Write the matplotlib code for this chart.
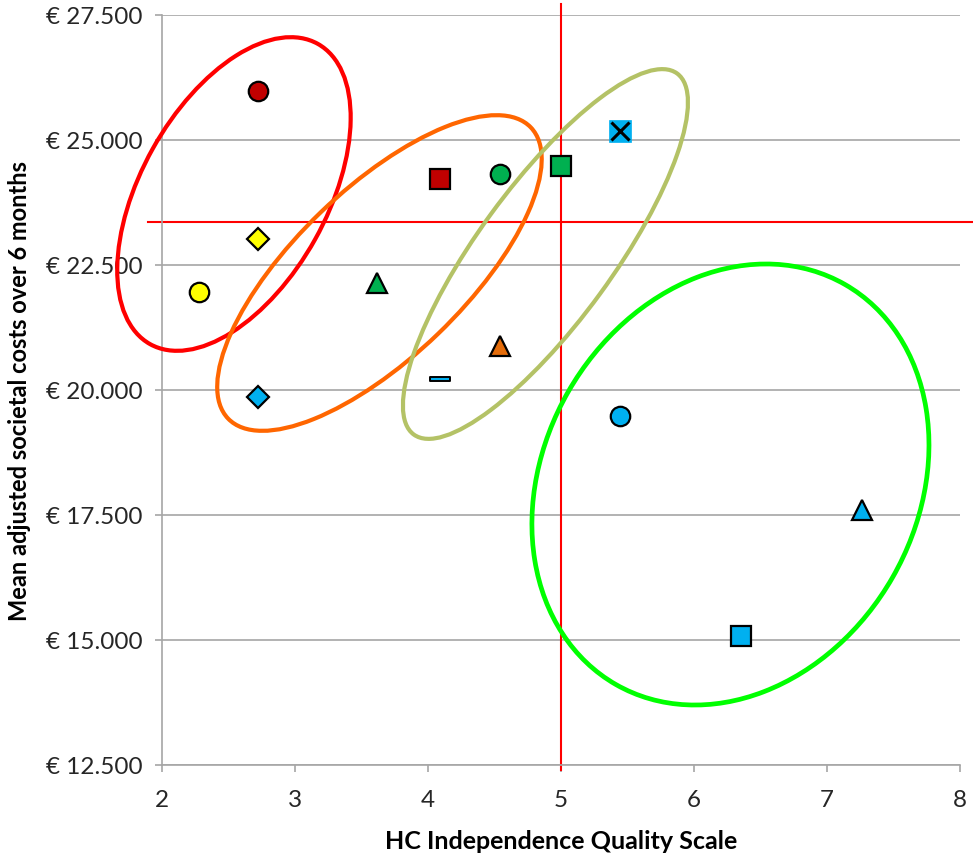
import matplotlib
matplotlib.use("Agg")
import matplotlib.pyplot as plt
from matplotlib.patches import Ellipse
from matplotlib.path import Path
from matplotlib.ticker import FuncFormatter, MultipleLocator
import matplotlib.transforms as mtransforms

plt.rcParams['font.family'] = ['Lato', 'DejaVu Sans']

# Scheme scores and mean costs per care arrangement
names = ["A", "B", "C", "D", "E", "F", "G", "H", "I", "J", "K", "L", "M", "N"]
hc_score = [2.72, 2.72, 2.28, 2.72, 4.09, 4.54, 5.00, 5.44, 3.62, 4.54, 4.09, 5.44, 7.26, 6.35]
mean_cost = [25980, 23020, 21960, 19860, 24220, 24320, 24480, 25180, 22150, 20880, 20220, 19480, 17600, 15080]
markers = ["o", "D", "o", "D", "s", "o", "s", "sx", "^", "^", "dash", "o", "^", "s"]
face_colors = ["#C00000", "#FFFF00", "#FFFF00", "#00B0F0", "#C00000", "#00B050", "#00B050",
               "#00B0F0", "#00B050", "#E46C0A", "#00B0F0", "#00B0F0", "#00B0F0", "#00B0F0"]

# Reference values (cross lines)
ref_score = 5.0
ref_cost = 23360

# Cluster ellipses: centre (score, cost), semi-axes in score units, tilt in degrees
ell_centres = [(2.541, 23920), (3.635, 22340), (4.883, 22720), (6.274, 18110)]
ell_semi_a = [1.293, 1.579, 1.680, 1.733]
ell_semi_b = [0.699, 0.635, 0.508, 1.405]
ell_angle = [60.8, 43.9, 53.9, 60.2]
ell_colors = ["#FF0000", "#FF6600", "#B4C266", "#00FF00"]
ell_widths = [3.0, 3.0, 3.0, 3.4]

x_min, x_max = 2, 8
y_min, y_max = 12500, 27500

fig = plt.figure(figsize=(9.73, 8.54), dpi=100)
ax = fig.add_axes([162 / 973, 88 / 854, 798 / 973, 750 / 854])
ax.set_xlim(x_min, x_max)
ax.set_ylim(y_min, y_max)

grid_col = "#A6A6A6"
ax.yaxis.set_major_locator(MultipleLocator(2500))
ax.xaxis.set_major_locator(MultipleLocator(1))
ax.grid(axis="y", color=grid_col, lw=1.2, zorder=0)
ax.set_axisbelow(True)
for s in ["top", "right"]:
    ax.spines[s].set_visible(False)
for s in ["left", "bottom"]:
    ax.spines[s].set_color(grid_col)
    ax.spines[s].set_linewidth(1.2)
ax.tick_params(axis="both", colors=grid_col, length=5, width=1.2, labelsize=17.5,
               labelcolor="#262626")
ax.tick_params(axis="x", pad=12)
ax.tick_params(axis="y", pad=9)

def euro(v, pos):
    return "€ " + f"{int(round(v)):,}".replace(",", ".")
ax.yaxis.set_major_formatter(FuncFormatter(euro))

ax.set_xlabel("HC Independence Quality Scale", fontsize=18, fontweight="bold", labelpad=14)
ax.set_ylabel("Mean adjusted societal costs over 6 months", fontsize=17, fontweight="bold",
              labelpad=11)

# Cross reference lines, extended a little beyond the plotting area
x_span = x_max - x_min
y_span = y_max - y_min
ax.plot([x_min - 0.018 * x_span, x_max + 0.02 * x_span], [ref_cost, ref_cost],
        color="#FF0000", lw=1.5, clip_on=False, zorder=2)
ax.plot([ref_score, ref_score], [y_min - 0.006 * y_span, y_max + 0.015 * y_span],
        color="#FF0000", lw=1.5, clip_on=False, zorder=2)

# Ellipses drawn in a pixel-isotropic frame: one score unit equals this many euros on screen
px_per_x = ax.bbox.width / x_span
px_per_y = ax.bbox.height / y_span
iso = px_per_x / px_per_y
iso_trans = mtransforms.Affine2D().scale(1, iso) + ax.transData
for (cx, cy), a, b, ang, col, lw in zip(ell_centres, ell_semi_a, ell_semi_b, ell_angle,
                                        ell_colors, ell_widths):
    e = Ellipse((cx, cy / iso), 2 * a, 2 * b, angle=ang, transform=iso_trans,
                fill=False, edgecolor=col, lw=lw, zorder=3, clip_on=False)
    ax.add_patch(e)

dash_marker = Path([(-1, -0.2), (1, -0.2), (1, 0.2), (-1, 0.2), (-1, -0.2)],
                   [Path.MOVETO, Path.LINETO, Path.LINETO, Path.LINETO, Path.CLOSEPOLY])

for x, y, m, fc in zip(hc_score, mean_cost, markers, face_colors):
    if m == "o":
        ax.plot(x, y, "o", ms=14, mfc=fc, mec="black", mew=1.6, zorder=5)
    elif m == "D":
        ax.plot(x, y, "D", ms=11, mfc=fc, mec="black", mew=1.6, zorder=5)
    elif m == "s":
        ax.plot(x, y, "s", ms=14, mfc=fc, mec="black", mew=1.6, zorder=5)
    elif m == "^":
        ax.plot(x, y, "^", ms=14, mfc=fc, mec="black", mew=1.6, zorder=5)
    elif m == "sx":
        ax.plot(x, y, "s", ms=15.5, mfc=fc, mec=fc, mew=0.5, zorder=5)
        ax.plot(x, y, "x", ms=13, mec="black", mew=2.2, zorder=6)
    elif m == "dash":
        ax.plot(x, y, marker=dash_marker, ms=14, mfc=fc, mec="black", mew=1.4,
                ls="none", zorder=5)

fig.savefig("out.png", dpi=100)
